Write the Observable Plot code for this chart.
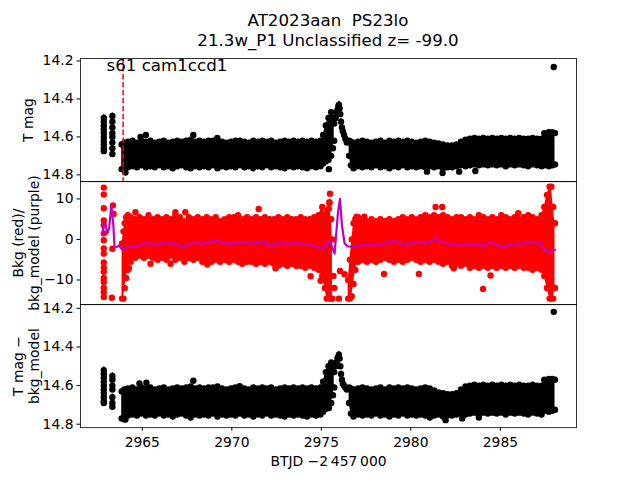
<!DOCTYPE html>
<html><head><meta charset="utf-8">
<script src="https://cdn.jsdelivr.net/npm/d3@7"></script>
<script src="https://cdn.jsdelivr.net/npm/@observablehq/plot@0.6"></script>
<style>
body{margin:0;background:#fff;}
#fig{position:relative;width:640px;height:480px;background:#fff;font-family:"DejaVu Sans",sans-serif;overflow:hidden;}
#fig svg{position:absolute;left:0;overflow:visible;}
.title{position:absolute;left:0;width:656px;text-align:center;font-size:16.67px;line-height:20px;top:11px;color:#000;white-space:pre;}
</style></head><body>
<div id="fig"><div class="title" id="title"></div></div>
<script>
// ---------- data ----------
const titleLines = ["AT2023aan  PS23lo", "21.3w_P1 Unclassified z= -99.0"];
const sectorLabel = "s61 cam1ccd1";
const xLabel = "BTJD \u22122\u2009457\u2009000";
const xTicks = [2965, 2970, 2975, 2980, 2985];
const xDomain = [2961.55, 2989.25];
const markerT = 2963.93;

// panel 1 & 3 band sample times
const seg1T = [2963.85,2964.0,2964.2,2964.45,2964.7,2964.95,2965.2,2965.45,2965.7,2965.95,2966.2,2966.45,2966.7,2966.95,2967.2,2967.45,2967.7,2967.95,2968.2,2968.45,2968.7,2968.95,2969.2,2969.45,2969.7,2969.95,2970.2,2970.45,2970.7,2970.95,2971.2,2971.45,2971.7,2971.95,2972.2,2972.45,2972.7,2972.95,2973.2,2973.45,2973.7,2973.95,2974.2,2974.45,2974.7,2974.95,2975.1,2975.25,2975.4,2975.55,2975.65,2975.72];
const seg2T = [2976.55,2976.65,2976.8,2977.05,2977.3,2977.55,2977.8,2978.05,2978.3,2978.55,2978.8,2979.05,2979.3,2979.55,2979.8,2980.05,2980.3,2980.55,2980.8,2981.05,2981.3,2981.55,2981.8,2982.05,2982.3,2982.55,2982.8,2983.05,2983.3,2983.55,2983.8,2984.05,2984.3,2984.55,2984.8,2985.05,2985.3,2985.55,2985.8,2986.05,2986.3,2986.55,2986.8,2987.05,2987.3,2987.45,2987.7,2987.9,2988.05];

// panel 1: T mag
const p1Seg1Top = [14.64,14.63,14.625,14.62,14.63,14.62,14.625,14.62,14.63,14.625,14.62,14.63,14.625,14.62,14.625,14.62,14.615,14.625,14.62,14.625,14.62,14.62,14.615,14.625,14.63,14.625,14.62,14.62,14.625,14.63,14.62,14.625,14.62,14.625,14.62,14.63,14.625,14.62,14.625,14.62,14.625,14.62,14.625,14.62,14.625,14.62,14.59,14.54,14.5,14.47,14.5,14.53];
const p1Seg1Bot = [14.77,14.775,14.76,14.755,14.76,14.75,14.76,14.755,14.76,14.75,14.76,14.755,14.765,14.755,14.75,14.76,14.765,14.755,14.76,14.755,14.76,14.75,14.765,14.755,14.76,14.755,14.76,14.75,14.76,14.755,14.765,14.755,14.76,14.75,14.76,14.755,14.76,14.765,14.755,14.76,14.755,14.76,14.765,14.755,14.76,14.755,14.74,14.73,14.72,14.70,14.66,14.62];
const p1Seg2Top = [14.62,14.625,14.63,14.625,14.62,14.625,14.63,14.625,14.62,14.63,14.62,14.625,14.62,14.625,14.62,14.625,14.63,14.625,14.62,14.625,14.63,14.635,14.64,14.645,14.645,14.64,14.625,14.615,14.61,14.605,14.61,14.605,14.61,14.605,14.61,14.605,14.61,14.605,14.61,14.605,14.61,14.61,14.605,14.61,14.61,14.58,14.575,14.575,14.58];
const p1Seg2Bot = [14.70,14.75,14.765,14.755,14.76,14.755,14.76,14.75,14.76,14.755,14.765,14.755,14.76,14.75,14.76,14.755,14.76,14.755,14.76,14.755,14.76,14.755,14.765,14.76,14.76,14.755,14.75,14.755,14.75,14.745,14.75,14.745,14.75,14.745,14.75,14.745,14.755,14.745,14.75,14.745,14.75,14.755,14.745,14.75,14.755,14.75,14.755,14.75,14.745];
const clumpAT = 2962.85, clumpBT = 2963.33;
const p1ClumpA = [14.5,14.52,14.54,14.56,14.58,14.6,14.62,14.64,14.66,14.675];
const p1ClumpB = [14.49,14.52,14.55,14.58,14.6,14.63,14.66,14.69];
const peakT = [2975.8,2975.85,2975.9,2975.95,2975.98,2976.02,2976.06,2976.1,2976.15,2976.2,2976.27,2976.34,2976.42];
const p1Peak = [14.5,14.47,14.46,14.44,14.43,14.45,14.48,14.52,14.55,14.57,14.59,14.61,14.63];
const p1OutT = [2964.06,2964.9,2965.2,2967.85,2969.19,2975.42,2980.9,2981.77,2982.7,2983.6,2987.98];
const p1OutV = [14.788,14.6,14.59,14.59,14.605,14.77,14.783,14.79,14.783,14.78,14.232];
const magErr = 0.016;

// panel 3: T mag - bkg_model
const p3Seg1Top = [14.63,14.62,14.615,14.61,14.62,14.61,14.615,14.61,14.62,14.615,14.61,14.62,14.615,14.61,14.615,14.61,14.605,14.615,14.61,14.615,14.61,14.61,14.605,14.615,14.62,14.615,14.61,14.61,14.615,14.62,14.61,14.615,14.61,14.615,14.61,14.62,14.615,14.61,14.615,14.61,14.615,14.61,14.615,14.61,14.615,14.61,14.58,14.53,14.5,14.48,14.5,14.53];
const p3Seg1Bot = [14.77,14.775,14.755,14.75,14.755,14.745,14.755,14.75,14.755,14.745,14.755,14.75,14.76,14.75,14.745,14.755,14.765,14.75,14.755,14.75,14.755,14.745,14.76,14.75,14.755,14.75,14.755,14.745,14.755,14.75,14.76,14.75,14.755,14.745,14.755,14.75,14.755,14.76,14.75,14.755,14.75,14.755,14.76,14.75,14.755,14.75,14.735,14.72,14.71,14.69,14.65,14.61];
const p3Seg2Top = [14.61,14.615,14.62,14.615,14.61,14.615,14.62,14.615,14.61,14.62,14.61,14.615,14.61,14.615,14.61,14.615,14.62,14.615,14.61,14.615,14.625,14.635,14.64,14.645,14.645,14.64,14.62,14.605,14.6,14.595,14.6,14.595,14.6,14.595,14.6,14.595,14.6,14.595,14.6,14.595,14.6,14.6,14.595,14.6,14.6,14.57,14.565,14.565,14.57];
const p3Seg2Bot = [14.69,14.745,14.76,14.75,14.755,14.75,14.755,14.745,14.755,14.75,14.76,14.75,14.755,14.745,14.755,14.75,14.755,14.75,14.755,14.75,14.755,14.75,14.76,14.755,14.755,14.75,14.745,14.75,14.745,14.74,14.745,14.74,14.745,14.74,14.745,14.74,14.75,14.74,14.745,14.74,14.745,14.75,14.74,14.745,14.75,14.73,14.735,14.73,14.725];
const p3ClumpA = [14.52,14.54,14.56,14.58,14.6,14.62,14.64,14.66,14.68,14.69];
const p3ClumpB = [14.55,14.57,14.6,14.62,14.66,14.69,14.71];
const p3Peak = [14.5,14.48,14.46,14.45,14.44,14.46,14.5,14.54,14.57,14.59,14.6,14.61,14.62];
const p3OutT = [2964.06,2964.84,2965.23,2967.85,2970.44,2975.42,2981.06,2981.94,2982.87,2983.8,2987.98];
const p3OutV = [14.775,14.589,14.585,14.575,14.603,14.716,14.765,14.779,14.77,14.765,14.218];

// panel 2: Bkg (red) and bkg_model (purple)
const p2Seg1T = [2963.87,2963.95,2964.02,2964.1,2964.2,2964.35,2964.6,2964.85,2965.1,2965.35,2965.6,2965.85,2966.1,2966.35,2966.6,2966.85,2967.1,2967.35,2967.6,2967.85,2968.1,2968.35,2968.6,2968.85,2969.1,2969.35,2969.6,2969.85,2970.1,2970.35,2970.6,2970.85,2971.1,2971.35,2971.6,2971.85,2972.1,2972.35,2972.6,2972.85,2973.1,2973.35,2973.6,2973.85,2974.1,2974.35,2974.6,2974.85,2975.05,2975.2,2975.3,2975.45,2975.55,2975.62];
const p2Seg1Top = [-1,2,4,5.5,6,5.5,5,5.5,5,6,5,5.5,5,5.5,5,6,5.5,4.5,5.5,5,5.5,5,5.5,5,5.5,4.5,5,5.5,5.5,6,5,5.5,5,5.5,5,5.5,5,5,5.5,5,5.5,5,5,5.5,5,5,5.5,6,8,6,7,9,5,0];
const p2Seg1Bot = [-14.6,-14.6,-12,-9.5,-7.5,-5.5,-4.5,-4,-4.5,-4,-4.5,-5,-4.5,-5,-4,-5,-4.5,-5.5,-4.5,-5,-4.5,-5.5,-5,-5.5,-5,-5.5,-5,-5.5,-5,-5.5,-5,-5.5,-5.5,-6,-5.5,-6,-5.5,-6,-6.5,-6,-6.5,-6,-6.5,-6.5,-7,-6.5,-7,-7.5,-9,-12,-14.6,-14.6,-14.6,-14.6];
const p2Seg2T = [2976.5,2976.6,2976.7,2976.8,2976.9,2977.05,2977.3,2977.55,2977.8,2978.05,2978.3,2978.55,2978.8,2979.05,2979.3,2979.55,2979.8,2980.05,2980.3,2980.55,2980.8,2981.05,2981.3,2981.55,2981.8,2982.05,2982.3,2982.55,2982.8,2983.05,2983.3,2983.55,2983.8,2984.05,2984.3,2984.55,2984.8,2985.05,2985.3,2985.55,2985.8,2986.05,2986.3,2986.55,2986.8,2987.05,2987.3,2987.45,2987.6,2987.75,2987.85,2987.95,2988.05];
const p2Seg2Top = [-10,-5,0,4,5,5.5,5,4.5,5,4.5,5,4.5,5,4.5,5,5.5,5,5.5,5,5.5,6,5.5,6,5.5,6,5.5,5,5.5,5.5,5,5.5,5,6,5.5,5,5.5,5,6,5.5,5,5.5,5,5.5,6,5.5,5,6,8,11,13,13,8,4];
const p2Seg2Bot = [-14.6,-14.6,-14,-11,-7.5,-5.5,-5,-5.5,-5,-5.5,-5,-4.5,-5,-5.5,-5,-5.5,-5,-4.5,-5,-5.5,-5,-5.5,-5,-5.5,-6,-5.5,-6.5,-6,-6.5,-6,-7,-6.5,-7,-6.5,-7,-6.5,-7,-6.5,-7,-6.5,-7,-6.5,-7,-7,-7.5,-7,-7.5,-9,-12,-14.6,-14.6,-14.6,-12];
const p2DotT = [2962.85,2962.85,2962.85,2962.85,2962.85,2962.85,2962.85,2962.85,2962.85,2962.85,2962.85,2962.85,2962.85,2962.85,2962.85,2962.85,2962.85,
  2963.36,2963.4,2963.33,2963.3,
  2975.42,2975.45,2975.48,2975.98,2976.04,2976.3,2975.72,2975.68,
  2964.62,2966.85,2967.4,2965.46,2966.58,2968.63,2964.25,2970.58,2972.44,2974.4,2974.96,2971.5,2976.97,2977.4,2978.5,2980.45,2982.4,2984.03,2984.45,2981.38,2981.75,2986.0];
const p2DotV = [12.8,11.1,7.7,4.7,3.5,1.5,-0.2,-2.2,-3.5,-5.7,-7,-8,-9.5,-10.5,-12,-13,-14.2,
  8.4,6.3,-2.3,-14.4,
  7.6,9.2,11.3,-14.6,-7.8,-8.6,-12,-9,
  6.7,6.7,6.7,-6,-6,-6.2,-7.1,-6,-7.1,-9.1,-10.2,7.5,5.6,5.6,-8.5,-8.5,-7.1,-12.2,-8.9,8.0,8.0,6.5];
const modelT = [2962.78,2962.85,2962.92,2963.0,2963.05,2963.15,2963.27,2963.38,2963.45,2963.6,2963.7,2963.85,2963.95,2964.16,2964.4,2964.72,2965.0,2965.28,2965.6,2966.0,2966.4,2966.76,2967.05,2967.32,2967.6,2967.88,2968.3,2968.7,2969.19,2969.6,2970.1,2970.5,2970.86,2971.05,2971.4,2971.8,2972.16,2972.5,2972.9,2973.28,2973.7,2974.03,2974.4,2974.77,2975.05,2975.25,2975.42,2975.57,2975.74,2975.93,2976.04,2976.15,2976.3,2976.48,2976.73,2977.1,2977.57,2978.0,2978.5,2979.05,2979.6,2980.0,2980.36,2980.9,2981.38,2981.8,2982.2,2982.7,2983.15,2983.6,2984.08,2984.45,2984.8,2985.2,2985.6,2985.95,2986.3,2986.7,2987.0,2987.25,2987.45,2987.7,2987.9,2988.05];
const modelV = [1.0,4.3,3.5,2.5,1.5,2.8,8.4,3.8,-1.9,-1.8,-1.5,-2.4,-2.5,-1.5,-1.9,-1.7,-1.2,-0.7,-1.3,-1.1,-0.8,-1.0,-1.4,-2.0,-1.2,-0.7,-1.1,-0.6,-0.3,-0.9,-1.1,-0.6,-0.7,-1.1,-0.8,-0.5,-1.7,-0.9,-1.0,-1.1,-0.8,-1.3,-1.2,-1.9,-2.4,-1.5,-0.25,-1.5,-3.5,6.7,10.0,3.5,-1.0,-1.7,-1.8,-1.5,-1.3,-1.4,-1.0,-0.3,-1.3,-0.9,-0.7,-0.9,0.2,-0.8,-1.1,-1.3,-1.0,-1.2,-1.6,-0.6,-1.4,-1.9,-1.2,-1.3,-0.9,-0.7,-1.0,-0.7,-2.7,-3.1,-2.8,-2.6];

// ---------- helpers ----------
document.getElementById("title").textContent = titleLines.join("\n");
const RED = "#ff0000", PURPLE = "#bf00bf", BLACK = "#000000";
const R = 3.2;
const fmt1 = d3.format(".1f"), fmt0 = d3.format("d");
function band(T, top, bot, color) {
  const rows = T.map((t, i) => ({t, hi: top[i], lo: bot[i]}));
  return [
    Plot.areaY(rows, {x: "t", y1: "lo", y2: "hi", fill: color}),
    Plot.dot(rows, {x: "t", y: "hi", r: R, fill: color}),
    Plot.dot(rows, {x: "t", y: "lo", r: R, fill: color})
  ];
}
function errDots(T, V, err, color) {
  const rows = V.map((v, i) => ({t: Array.isArray(T) ? T[i] : T, v}));
  return [
    Plot.ruleX(rows, {x: "t", y1: d => d.v - err, y2: d => d.v + err, stroke: color, strokeWidth: 1.5}),
    Plot.dot(rows, {x: "t", y: "v", r: R, fill: color})
  ];
}
function pts(T, V, color) {
  return Plot.dot(V.map((v, i) => ({t: T[i], v})), {x: "t", y: "v", r: R, fill: color});
}
const fig = document.getElementById("fig");
const PH = 123.2;
function panel(top, yDomain, yTicks, yFmt, marks, xAxis) {
  const mt = 10, mb = xAxis ? 53 : 10;
  const svg = Plot.plot({
    width: 640, height: PH + mt + mb,
    marginLeft: 80, marginRight: 64, marginTop: mt, marginBottom: mb,
    style: {fontFamily: "DejaVu Sans", fontSize: "13.9px", background: "transparent", overflow: "visible", color: "black"},
    x: {domain: xDomain, axis: xAxis ? "bottom" : null, ticks: xTicks, tickFormat: fmt0, tickSize: 3.5, tickPadding: 6, label: null},
    y: {domain: yDomain, ticks: yTicks, tickFormat: yFmt, tickSize: 3.5, tickPadding: 3.5, label: null},
    marks: [...marks, Plot.frame({stroke: "black", strokeWidth: 0.8})]
  });
  svg.style.top = (top - mt) + "px";
  fig.appendChild(svg);
}
function ylab(text, dx) {
  return Plot.text([text], {text: d => d, frameAnchor: "left", dx, rotate: -90, textAnchor: "middle", lineAnchor: "middle", fontSize: 13.9, lineHeight: 1.17, fill: "black"});
}

// panel 1
panel(57.6, [14.836, 14.187], [14.2, 14.4, 14.6, 14.8], fmt1, [
  ...band(seg1T, p1Seg1Top, p1Seg1Bot, BLACK),
  ...band(seg2T, p1Seg2Top, p1Seg2Bot, BLACK),
  ...errDots(clumpAT, p1ClumpA, magErr, BLACK),
  ...errDots(clumpBT, p1ClumpB, magErr, BLACK),
  ...errDots(peakT, p1Peak, magErr, BLACK),
  pts(p1OutT, p1OutV, BLACK),
  Plot.ruleX([markerT], {stroke: RED, strokeWidth: 1.5, strokeDasharray: "5.55 2.4"}),
  Plot.text([sectorLabel], {text: d => d, frameAnchor: "top-left", dx: 26, dy: 1, textAnchor: "start", lineAnchor: "top", fontSize: 16.67, fill: "black"}),
  ylab("T mag", -53)
], false);

// panel 2
panel(180.8, [-16.1, 14.3], [-10, 0, 10], fmt0, [
  ...band(p2Seg1T, p2Seg1Top, p2Seg1Bot, RED),
  ...band(p2Seg2T, p2Seg2Top, p2Seg2Bot, RED),
  pts(p2DotT, p2DotV, RED),
  Plot.line(modelT.map((t, i) => ({t, v: modelV[i]})), {x: "t", y: "v", stroke: PURPLE, strokeWidth: 2.2}),
  ylab("Bkg (red)/\nbkg_model (purple)", -55)
], false);

// panel 3
panel(304, [14.818, 14.18], [14.2, 14.4, 14.6, 14.8], fmt1, [
  ...band(seg1T, p3Seg1Top, p3Seg1Bot, BLACK),
  ...band(seg2T, p3Seg2Top, p3Seg2Bot, BLACK),
  ...errDots(clumpAT, p3ClumpA, magErr, BLACK),
  ...errDots(clumpBT, p3ClumpB, magErr, BLACK),
  ...errDots(peakT, p3Peak, magErr, BLACK),
  pts(p3OutT, p3OutV, BLACK),
  ylab("T mag \u2212\nbkg_model", -55),
  Plot.text([xLabel], {text: d => d, frameAnchor: "bottom", dy: 38, fontSize: 13.9, fill: "black"})
], true);
</script>
</body></html>
